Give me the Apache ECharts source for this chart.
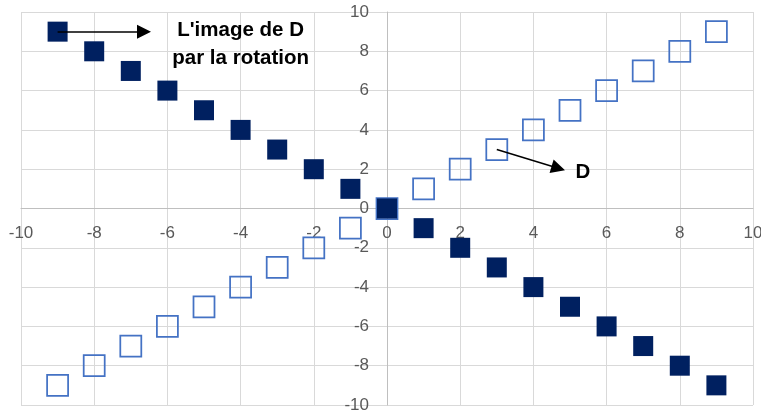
<!DOCTYPE html>
<html><head><meta charset="utf-8">
<script src="https://cdn.jsdelivr.net/npm/echarts@6/dist/echarts.min.js"></script>
<style>html,body{margin:0;padding:0;background:#fff}#c{width:761px;height:413px}</style>
</head><body><div id="c"></div>
<script>
// Data
const dX = [-9,-8,-7,-6,-5,-4,-3,-2,-1,0,1,2,3,4,5,6,7,8,9];
const dY = [-9,-8,-7,-6,-5,-4,-3,-2,-1,0,1,2,3,4,5,6,7,8,9];
const imgX = [-9,-8,-7,-6,-5,-4,-3,-2,-1,0,1,2,3,4,5,6,7,8,9];
const imgY = [9,8,7,6,5,4,3,2,1,0,-1,-2,-3,-4,-5,-6,-7,-8,-9];
const axisMin = -10, axisMax = 10, axisStep = 2;
const labelImage = "L'image de D";
const labelImage2 = "par la rotation";
const labelD = "D";
// annotation anchor points (data coords)
const arrow1 = [[-9, 9], [-6.64, 9]];
const arrow2 = [[3, 3], [4.68, 2.05]];
const text1Pos = [-4.0, 9.08];
const text2Pos = [-4.0, 7.62];
const textDPos = [5.35, 1.82];

const dData = dX.map((x,i)=>[x,dY[i]]);
const imgData = imgX.map((x,i)=>[x,imgY[i]]);

const W = 761, H = 413;
const G = {left:21, right:8, top:12, bottom:8};
const gw = W - G.left - G.right, gh = H - G.top - G.bottom;
// place axes through zero (labels included)
const yOffset = -((0 - axisMin) / (axisMax - axisMin)) * gw;
const xOffset = -((0 - axisMin) / (axisMax - axisMin)) * gh;

const chart = echarts.init(document.getElementById('c'), null, {renderer:'canvas'});
const lbl = {color:'#595959', fontSize:17, fontFamily:'Liberation Sans'};
const axisCommon = {
  type:'value', min:axisMin, max:axisMax, interval:axisStep,
  axisLine:{onZero:false, lineStyle:{color:'#bfbfbf', width:1}},
  axisTick:{show:false},
  splitLine:{show:true, lineStyle:{color:'#d9d9d9', width:1}}
};
const textLabel = (t)=>({show:true, formatter:t, position:'inside', color:'#000', fontSize:20.5, fontWeight:'bold', fontFamily:'Liberation Sans'});
chart.setOption({
  animation:false,
  grid:{left:G.left, right:G.right, top:G.top, bottom:G.bottom, containLabel:false, outerBoundsMode:'none'},
  xAxis: Object.assign({}, axisCommon, {position:'bottom', offset:xOffset, axisLabel:Object.assign({margin:16}, lbl)}),
  yAxis: Object.assign({}, axisCommon, {position:'left', offset:yOffset, axisLabel:Object.assign({margin:18}, lbl)}),
  series:[
    {
      name:'D', type:'scatter', symbol:'rect', symbolSize:21, data:dData,
      itemStyle:{color:'rgba(0,0,0,0)', borderColor:'#4472C4', borderWidth:1.75, opacity:1},
      markLine:{
        silent:true, symbol:['none','triangle'], symbolSize:14,
        label:{show:false}, lineStyle:{color:'#000', width:1.5, type:'solid'},
        emphasis:{disabled:true},
        data:[
          [{coord:arrow1[0]},{coord:arrow1[1]}],
          [{coord:arrow2[0]},{coord:arrow2[1]}]
        ]
      },
      markPoint:{
        silent:true, symbol:'circle', symbolSize:1, itemStyle:{color:'rgba(0,0,0,0)'},
        data:[
          {coord:text1Pos, label:textLabel(labelImage)},
          {coord:text2Pos, label:textLabel(labelImage2)},
          {coord:textDPos, label:textLabel(labelD)}
        ]
      },
      z:2
    },
    {
      name:'Image', type:'scatter', symbol:'rect', symbolSize:20, data:imgData,
      itemStyle:{color:'#002060', opacity:1}, z:3
    }
  ]
});
</script></body></html>
